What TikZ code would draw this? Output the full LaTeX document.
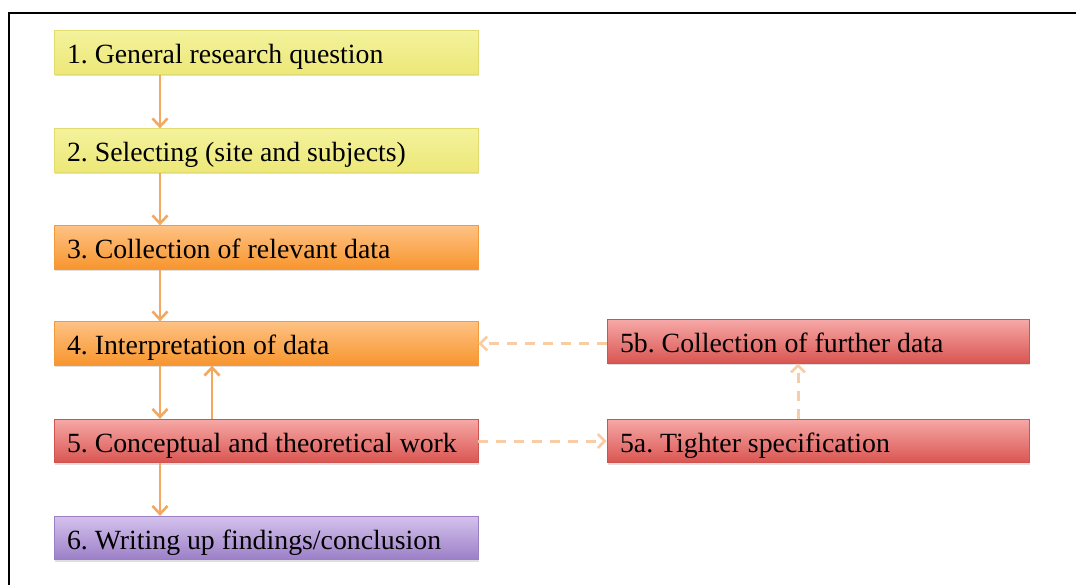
\documentclass[tikz,border=0pt]{standalone}
\usepackage{fontspec}
\setmainfont{Liberation Serif}
\usetikzlibrary{arrows.meta,shadows}

% box palettes: top / bottom of the gradient and the outline
\definecolor{yellowtop}{HTML}{F4F29C}
\definecolor{yellowbot}{HTML}{ECE878}
\definecolor{yellowedge}{HTML}{E2DB70}
\definecolor{orangetop}{HTML}{FEC283}
\definecolor{orangebot}{HTML}{F7952E}
\definecolor{orangeedge}{HTML}{F29A3C}
\definecolor{redtop}{HTML}{F6A8A6}
\definecolor{redbot}{HTML}{D95551}
\definecolor{rededge}{HTML}{CF534F}
\definecolor{purpletop}{HTML}{D4C2EC}
\definecolor{purplebot}{HTML}{9C7FC8}
\definecolor{purpleedge}{HTML}{9A80C2}
\definecolor{flowcol}{HTML}{F3A862}
\definecolor{loopcol}{HTML}{F8CCA4}

\tikzset{
  stage/.style={draw=#1edge, line width=0.8pt,
    top color=#1top, bottom color=#1bot,
    text width=398pt, inner xsep=13pt, inner ysep=0pt,
    minimum height=43.5pt, align=left,
    text height=22pt, text depth=0pt,
    font=\fontsize{27.8}{30}\selectfont\frenchspacing,
    % the font's own word spacing, set after the alignment code
    execute at begin node={\spaceskip=0.25em\relax},
    drop shadow={opacity=0.25, shadow xshift=0.6pt, shadow yshift=-2pt}},
  substage/.style={stage=red, text width=396pt},
  flow/.style={draw=flowcol, line width=2.6pt,
    -{Straight Barb[length=8pt,width=15pt,line width=2.6pt]}},
  loop/.style={draw=loopcol, line width=3pt, dash pattern=on 10pt off 8pt,
    -{Straight Barb[length=7pt,width=14pt,line width=2.6pt]}},
  frame/.style={draw=black, line width=2pt}
}

\begin{document}
\begin{tikzpicture}[x=1pt,y=-1pt]
  \useasboundingbox (0,0) rectangle (1076,585);

  % open frame: top and left rules only
  \coordinate (corner) at (9,13);
  \draw[frame] (1077,13) -- (corner) -- (9,586);

  % main sequence of stages
  \node[stage=yellow] (s1) at (266,52.5) {1. General research question};
  \node[stage=yellow] (s2) at (266,150.5) {2. Selecting (site and subjects)};
  \node[stage=orange] (s3) at (266,247.5) {3. Collection of relevant data};
  \node[stage=orange] (s4) at (266,343.5) {4. Interpretation of data};
  \node[stage=red]    (s5) at (266,441) {5. Conceptual and theoretical work};
  \node[stage=purple] (s6) at (266,538) {6. Writing up findings/conclusion};

  % side loop
  \node[substage] (s5b) at (818,341.5) {5b. Collection of further data};
  \node[substage] (s5a) at (818,441) {5a. Tighter specification};

  % connector columns
  \coordinate (down) at (160,0);
  \coordinate (up) at (212,0);
  \coordinate (side) at (798,0);

  \draw[flow] (s1.south -| down) -- (s2.north -| down);
  \draw[flow] (s2.south -| down) -- (s3.north -| down);
  \draw[flow] (s3.south -| down) -- (s4.north -| down);
  \draw[flow] (s4.south -| down) -- (s5.north -| down);
  \draw[flow] (s5.north -| up) -- (s4.south -| up);
  \draw[flow] (s5.south -| down) -- (s6.north -| down);

  \draw[loop] (s5.east) -- (s5.east -| s5a.west);
  \draw[loop] (s5a.north -| side) -- (s5b.south -| side);
  \draw[loop] (s5b.west |- s4.east) -- (s4.east);
\end{tikzpicture}
\end{document}
